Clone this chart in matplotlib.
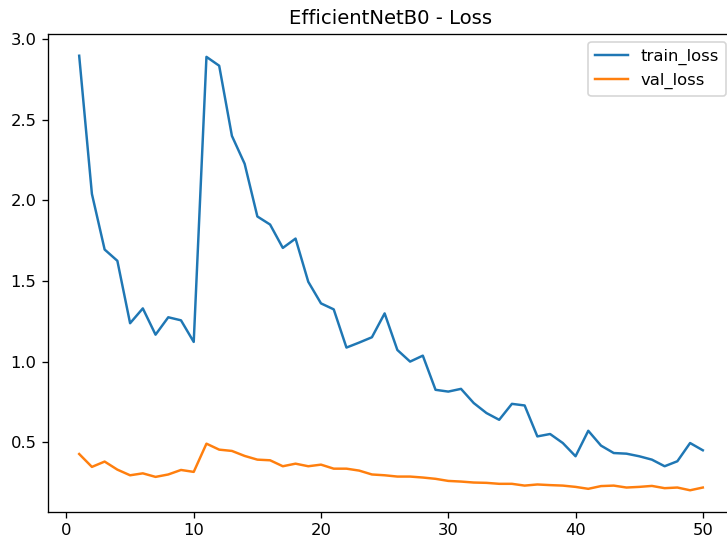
import matplotlib
matplotlib.use("Agg")
import matplotlib.pyplot as plt

epochs = list(range(1, 51))

train_loss = [
    2.897, 2.04, 1.695, 1.625, 1.238, 1.33, 1.167, 1.275, 1.256, 1.122,
    2.89, 2.835, 2.40, 2.227, 1.90, 1.85, 1.705, 1.763, 1.495, 1.361,
    1.324, 1.087, 1.118, 1.151, 1.299, 1.072, 1.00, 1.037, 0.825, 0.814,
    0.831, 0.743, 0.681, 0.639, 0.738, 0.728, 0.536, 0.551, 0.495, 0.413,
    0.571, 0.479, 0.433, 0.429, 0.413, 0.392, 0.351, 0.382, 0.495, 0.45,
]

val_loss = [
    0.427, 0.347, 0.38, 0.33, 0.295, 0.307, 0.285, 0.30, 0.328, 0.316,
    0.491, 0.454, 0.446, 0.415, 0.392, 0.388, 0.351, 0.367, 0.351, 0.361,
    0.336, 0.336, 0.324, 0.30, 0.295, 0.287, 0.287, 0.281, 0.273, 0.26,
    0.256, 0.25, 0.248, 0.242, 0.242, 0.231, 0.238, 0.234, 0.231, 0.223,
    0.211, 0.228, 0.231, 0.219, 0.223, 0.229, 0.215, 0.219, 0.202, 0.219,
]

DPI = 118
W, H = 727, 541
fig = plt.figure(figsize=(W / DPI, H / DPI), dpi=DPI)
ax = fig.add_axes([48 / W, 1 - 512 / H, 686 / W, (512 - 34) / H])

ax.plot(epochs, train_loss, label="train_loss")
ax.plot(epochs, val_loss, label="val_loss")
ax.set_title("EfficientNetB0 - Loss")
ax.legend(loc="upper right")

fig.savefig("out.png", dpi=DPI)
